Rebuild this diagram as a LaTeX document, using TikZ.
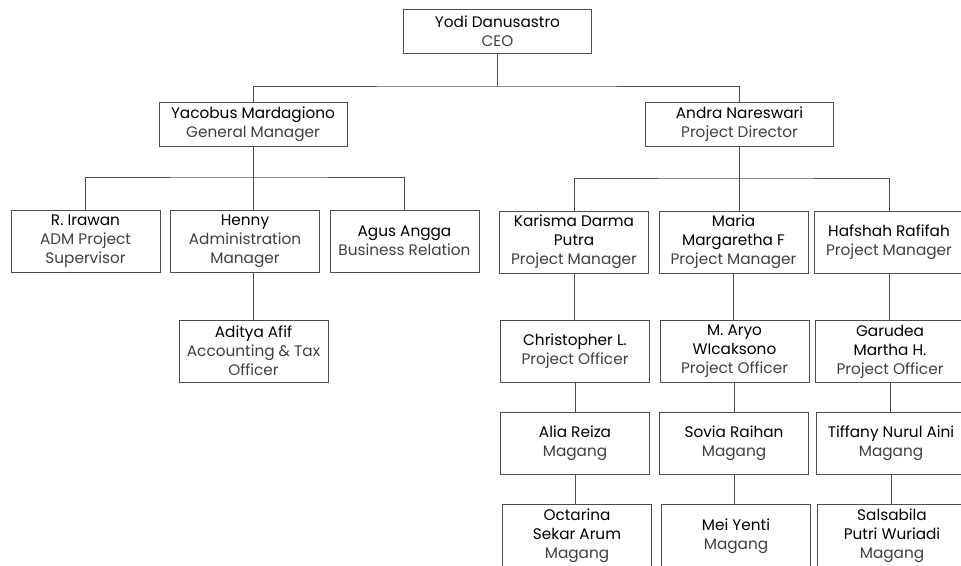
\documentclass[tikz,border=0pt]{standalone}
\usepackage{fontspec}
\setmainfont{Poppins}
\definecolor{linegray}{HTML}{4D4D4D}
\definecolor{rolegray}{HTML}{404040}
\newcommand{\role}[1]{\textcolor{rolegray}{#1}}

\begin{document}
\begin{tikzpicture}[x=1pt, y=-1pt,
    box/.style = {draw=linegray, line width=0.9pt, fill=white, inner sep=0pt, align=center,
                  minimum width=149pt, minimum height=62pt,
                  font=\fontsize{15.3}{19}\selectfont},
    head/.style = {box, minimum width=188pt, minimum height=44pt},
    link/.style = {draw=linegray, line width=0.9pt}]
    \clip (0,0) rectangle (961,565);
    \fill[white] (0,0) rectangle (961,565);

    % top
    \node[head] (ceo) at (497.5, 31) {Yodi Danusastro\\\role{CEO}};
    \node[head] (gm) at (253, 124) {Yacobus Mardagiono\\\role{General Manager}};
    \node[head] (pd) at (739.5, 124) {Andra Nareswari\\\role{Project Director}};

    % general manager side
    \node[box] (irawan) at (85.5, 241) {R. Irawan\\\role{ADM Project}\\\role{Supervisor}};
    \node[box] (henny) at (245, 241) {Henny\\\role{Administration}\\\role{Manager}};
    \node[box] (agus) at (404.5, 241) {Agus Angga\\\role{Business Relation}};
    \node[box] (aditya) at (253.5, 351) {Aditya Afif\\\role{Accounting \& Tax}\\\role{Officer}};

    % project director side
    \node[box] (karisma) at (574, 242) {Karisma Darma\\Putra\\\role{Project Manager}};
    \node[box] (maria) at (733.5, 242) {Maria\\Margaretha F\\\role{Project Manager}};
    \node[box] (hafshah) at (889, 242) {Hafshah Rafifah\\\role{Project Manager}};

    \node[box] (christopher) at (575, 351.5) {Christopher L.\\\role{Project Officer}};
    \node[box] (aryo) at (734.5, 351.5) {M. Aryo\\WIcaksono\\\role{Project Officer}};
    \node[box] (garudea) at (890, 351.5) {Garudea\\Martha H.\\\role{Project Officer}};

    \node[box] (alia) at (575, 443.5) {Alia Reiza\\\role{Magang}};
    \node[box] (sovia) at (734, 443.5) {Sovia Raihan\\\role{Magang}};
    \node[box] (tiffany) at (891, 443.5) {Tiffany Nurul Aini\\\role{Magang}};

    \node[box, minimum height=64pt] (octarina) at (577, 536) {Octarina\\Sekar Arum\\\role{Magang}};
    \node[box, minimum height=64pt] (mei) at (736, 536) {Mei Yenti\\\role{Magang}};
    \node[box, minimum height=64pt] (salsabila) at (892, 536) {Salsabila\\Putri Wuriadi\\\role{Magang}};

    % connectors
    \coordinate (ceobus) at (497.5, 86);
    \coordinate (gmbus) at (253, 177);
    \coordinate (pdbus) at (739.5, 178);

    \draw[link] (ceo.south) -- (ceobus);
    \draw[link] (gm.north) |- (ceobus) -| (pd.north);

    \draw[link] (gm.south) -- (gmbus);
    \draw[link] (irawan.north) |- (gmbus) -| (agus.north);
    \draw[link] (gmbus) -- (gmbus |- henny.north);
    \draw[link] (gm.south |- henny.south) -- (gm.south |- aditya.north);

    \draw[link] (pd.south) -- (pdbus);
    \draw[link] (karisma.north) |- (pdbus) -| (hafshah.north);
    \draw[link] (pdbus) -- (pdbus |- maria.north);

    \draw[link] (karisma.south) -- (karisma.south |- christopher.north);
    \draw[link] (christopher.south) -- (christopher.south |- alia.north);
    \draw[link] (alia.south) -- (alia.south |- octarina.north);
    \draw[link] (maria.south) -- (maria.south |- aryo.north);
    \draw[link] (aryo.south) -- (aryo.south |- sovia.north);
    \draw[link] (sovia.south) -- (sovia.south |- mei.north);
    \draw[link] (hafshah.south) -- (hafshah.south |- garudea.north);
    \draw[link] (garudea.south) -- (garudea.south |- tiffany.north);
    \draw[link] (tiffany.south) -- (tiffany.south |- salsabila.north);
\end{tikzpicture}
\end{document}
